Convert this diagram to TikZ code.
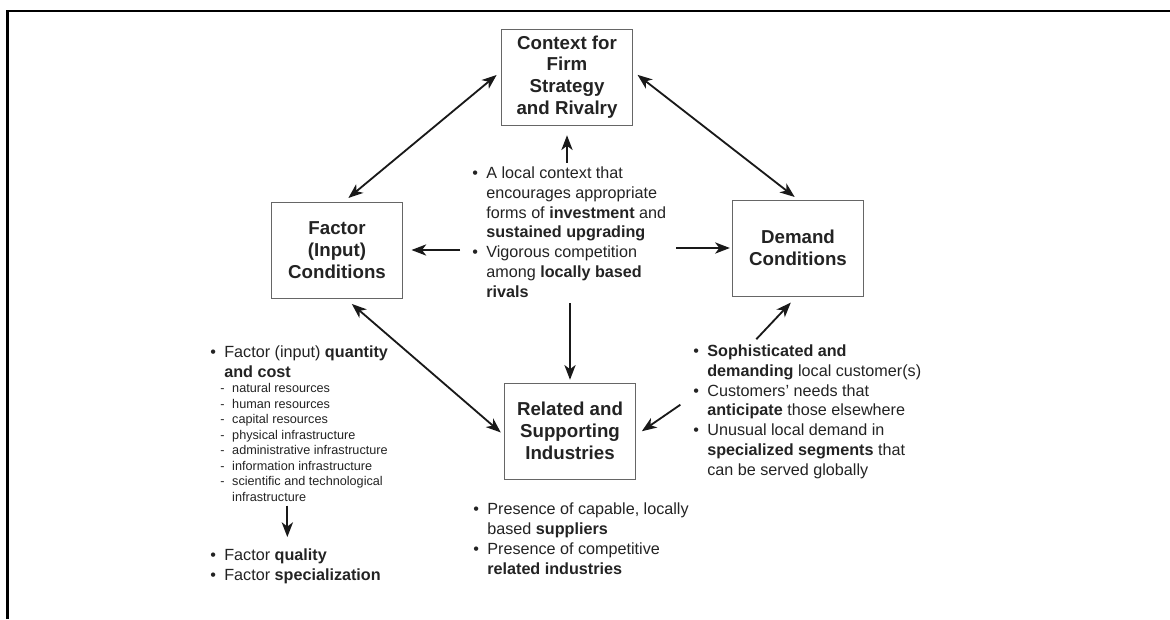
\documentclass[tikz,border=0pt]{standalone}
\usepackage{fontspec}
\setmainfont{Liberation Sans}
\usetikzlibrary{arrows.meta}
\definecolor{diamondink}{RGB}{35,35,35}
\newcommand{\bul}{\makebox[10pt][l]{\textbullet}}
\newcommand{\bsp}{\makebox[10pt]{}}
\newcommand{\dsh}{\makebox[8.5pt][l]{-}}
\newcommand{\dsp}{\makebox[8.5pt]{}}

\begin{document}
\begin{tikzpicture}[x=0.025cm,y=-0.025cm,
  >={Stealth[length=10.5pt,width=8pt,inset=3pt]},
  forcebox/.style={draw=black!60,line width=0.6pt,minimum width=3.28cm,
    minimum height=2.4cm,align=center,text=diamondink,
    font=\bfseries\fontsize{13.3}{15.5}\selectfont},
  bullets/.style={align=left,anchor=base west,inner sep=0pt,text=diamondink,
    font=\fontsize{11.5}{14}\selectfont},
  sublist/.style={align=left,anchor=base west,inner sep=0pt,text=diamondink,
    font=\fontsize{9}{11}\selectfont},
  arr/.style={->,line width=1.3pt,draw=black!90},
  dblarr/.style={<->,line width=1.3pt,draw=black!90}]
\useasboundingbox (0,0) rectangle (1170,619);
% frame
\draw[line width=1.5pt] (7.5,619) -- (7.5,11) -- (1170,11);

% the four boxes
\node[forcebox] (ctx) at (567,77) {Context for\\Firm\\Strategy\\and Rivalry};
\node[forcebox] (fac) at (337,250) {Factor\\(Input)\\Conditions};
\node[forcebox] (dem) at (798,248) {Demand\\Conditions};
\node[forcebox] (rel) at (570,431) {Related and\\Supporting\\Industries};

% texts (placed at the baseline of their last line)
\node[bullets] (ctr) at (472,297) {\bul A local context that\\
  \bsp encourages appropriate\\
  \bsp forms of \textbf{investment} and\\
  \bsp \textbf{sustained upgrading}\\
  \bul Vigorous competition\\
  \bsp among \textbf{locally based}\\
  \bsp \textbf{rivals}};
\node[bullets] (fqty) at (210,377) {\bul Factor (input) \textbf{quantity}\\
  \bsp \textbf{and cost}};
\node[sublist] (fsub) at (220,501) {\dsh natural resources\\
  \dsh human resources\\
  \dsh capital resources\\
  \dsh physical infrastructure\\
  \dsh administrative infrastructure\\
  \dsh information infrastructure\\
  \dsh scientific and technological\\
  \dsp infrastructure};
\node[bullets] (fqual) at (210,580) {\bul Factor \textbf{quality}\\
  \bul Factor \textbf{specialization}};
\node[bullets] (rtxt) at (473,574) {\bul Presence of capable, locally\\
  \bsp based \textbf{suppliers}\\
  \bul Presence of competitive\\
  \bsp \textbf{related industries}};
\node[bullets] (dmd) at (693,475) {\bul \textbf{Sophisticated and}\\
  \bsp \textbf{demanding} local customer(s)\\
  \bul Customers' needs that\\
  \bsp \textbf{anticipate} those elsewhere\\
  \bul Unusual local demand in\\
  \bsp \textbf{specialized segments} that\\
  \bsp can be served globally};

% diamond arrows
\draw[dblarr,shorten <=4pt,shorten >=4pt] ([yshift=4pt]ctx.west) -- ([xshift=5pt]fac.north);
\draw[dblarr,shorten <=4pt,shorten >=3pt] ([yshift=4pt]ctx.east) -- (dem.north);
\draw[dblarr,shorten <=6pt,shorten >=3pt] ([xshift=6pt]fac.south) -- ([yshift=-3pt]rel.west);

% arrows out of the centre text
\draw[arr,shorten <=3pt,shorten >=7pt] (ctx.south |- ctr.north) -- (ctx.south);
\draw[arr,shorten <=8.5pt,shorten >=6pt] (ctr.west |- fac.east) -- (fac.east);
\draw[arr,shorten <=7pt,shorten >=1.5pt] (ctr.east |- dem.west) -- (dem.west);
\draw[arr,shorten <=4pt,shorten >=2pt] (rel.north |- ctr.south) -- (rel.north);

% arrows out of the demand text
\coordinate (dmdtail) at ([xshift=45pt,yshift=4pt]dmd.north west);
\coordinate (dmdleft) at ([xshift=-9pt,yshift=5pt]dmd.west);
\draw[arr,shorten >=6pt] (dmdtail) -- ([xshift=-1pt]dem.south);
\draw[arr,shorten >=5pt] (dmdleft) -- ([yshift=-3pt]rel.east);

% factor quantity to quality
\coordinate (qtop) at ([xshift=55pt,yshift=8pt]fqual.north west);
\draw[arr,shorten <=3pt] (qtop |- fsub.south) -- (qtop);
\end{tikzpicture}
\end{document}
